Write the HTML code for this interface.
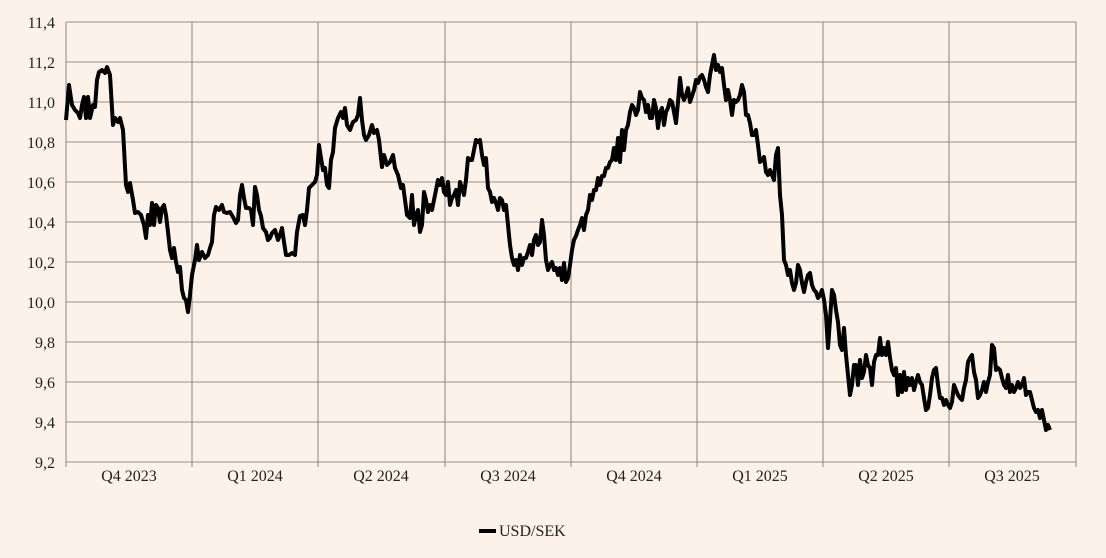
<!DOCTYPE html>
<html><head><meta charset="utf-8"><style>
html,body{margin:0;padding:0;background:#fdf2ea;}
svg{display:block;font-family:"Liberation Serif",serif;}
</style></head><body>
<svg width="1106" height="558" viewBox="0 0 1106 558">
<rect width="1106" height="558" fill="#fdf2ea"/>
<g stroke="#a8a29e" stroke-width="1.2">
<line x1="66" y1="22" x2="1076" y2="22"/><line x1="66" y1="62" x2="1076" y2="62"/><line x1="66" y1="102" x2="1076" y2="102"/><line x1="66" y1="142" x2="1076" y2="142"/><line x1="66" y1="182" x2="1076" y2="182"/><line x1="66" y1="222" x2="1076" y2="222"/><line x1="66" y1="262" x2="1076" y2="262"/><line x1="66" y1="302" x2="1076" y2="302"/><line x1="66" y1="342" x2="1076" y2="342"/><line x1="66" y1="382" x2="1076" y2="382"/><line x1="66" y1="422" x2="1076" y2="422"/><line x1="66" y1="462" x2="1076" y2="462"/>
</g>
<g stroke="#8a8480" stroke-width="1">
<line x1="66" y1="22" x2="66" y2="467"/><line x1="192" y1="22" x2="192" y2="467"/><line x1="318" y1="22" x2="318" y2="467"/><line x1="445" y1="22" x2="445" y2="467"/><line x1="571" y1="22" x2="571" y2="467"/><line x1="697" y1="22" x2="697" y2="467"/><line x1="823" y1="22" x2="823" y2="467"/><line x1="949" y1="22" x2="949" y2="467"/><line x1="1076" y1="22" x2="1076" y2="467"/>
</g>
<g font-size="16" fill="#222" text-anchor="end">
<text x="55" y="28">11,4</text><text x="55" y="68">11,2</text><text x="55" y="108">11,0</text><text x="55" y="148">10,8</text><text x="55" y="188">10,6</text><text x="55" y="228">10,4</text><text x="55" y="268">10,2</text><text x="55" y="308">10,0</text><text x="55" y="348">9,8</text><text x="55" y="388">9,6</text><text x="55" y="428">9,4</text><text x="55" y="468">9,2</text>
</g>
<g font-size="16" fill="#222" text-anchor="middle">
<text x="129" y="481">Q4 2023</text><text x="255" y="481">Q1 2024</text><text x="381" y="481">Q2 2024</text><text x="508" y="481">Q3 2024</text><text x="634" y="481">Q4 2024</text><text x="760" y="481">Q1 2025</text><text x="886" y="481">Q2 2025</text><text x="1012" y="481">Q3 2025</text>
</g>
<polyline fill="none" stroke="#000" stroke-width="4" stroke-linejoin="round" points="66,120 69,85 72,105 75,110 78,113 80,118 82,105 84,97 86,118 88,97 90,118 93,105 95,107 97,80 99,72 102,70 105,73 107,67 110,75 113,125 115,118 118,122 120,118 123,130 126,185 128,192 130,183 133,200 135,213 138,212 141,215 144,225 146,238 148,215 150,225 152,203 154,225 156,205 158,208 160,222 162,208 164,205 166,215 168,232 170,250 172,258 174,248 176,262 178,272 180,267 182,290 184,298 186,300 188,312 190,295 192,275 195,260 197,245 199,260 202,252 205,258 208,255 210,248 212,242 214,215 216,207 219,210 222,205 224,212 227,213 230,212 233,217 236,223 238,220 240,195 242,185 244,198 246,208 249,208 251,210 253,225 255,187 257,195 259,210 261,216 263,228 266,232 268,240 270,238 272,233 275,230 278,240 280,235 282,228 284,242 286,255 289,255 292,253 295,255 297,232 300,216 303,215 305,225 307,210 309,188 312,185 315,182 317,175 319,145 321,158 323,170 325,168 327,185 329,188 331,160 333,152 335,128 338,118 341,112 343,118 345,108 347,125 350,130 353,122 356,120 358,115 360,98 362,120 364,135 366,140 369,135 372,125 374,133 377,130 379,140 382,167 384,155 387,165 390,162 393,155 395,168 398,175 401,188 403,185 405,200 407,215 410,218 412,195 414,225 416,215 418,210 420,232 422,225 424,192 426,200 428,212 430,205 432,210 434,200 436,190 438,180 440,185 442,178 444,192 446,195 448,182 450,205 452,198 454,195 456,190 458,205 460,182 462,188 464,195 466,180 468,158 470,160 472,160 474,150 476,140 478,142 480,140 482,155 484,165 486,158 488,188 490,192 492,202 494,198 496,203 498,210 500,198 502,200 504,210 506,205 508,225 510,245 512,258 514,265 516,260 518,270 520,255 522,265 524,258 526,258 528,252 530,245 532,255 534,240 536,235 538,245 540,242 542,220 544,235 546,260 548,270 550,265 552,262 554,270 556,268 558,275 560,268 562,280 564,263 566,282 568,278 570,265 572,250 574,240 576,236 578,230 580,225 582,218 584,230 586,215 588,210 590,195 592,200 594,190 596,190 598,178 600,185 602,176 604,176 606,168 608,168 610,162 612,160 614,148 616,160 618,138 620,162 622,130 624,150 626,130 628,125 630,112 632,105 634,108 636,115 638,110 640,92 642,98 644,100 646,112 648,105 650,118 652,118 654,100 656,108 658,128 660,112 662,108 664,125 666,112 668,108 670,100 672,102 674,112 676,123 678,102 680,78 682,95 684,100 686,95 688,88 690,102 692,96 694,90 696,80 698,83 700,77 702,75 704,80 706,87 708,92 710,75 712,65 714,55 716,70 718,65 720,72 722,68 724,85 726,100 728,90 730,100 732,115 734,100 736,102 738,100 740,95 742,85 744,92 746,115 748,115 750,123 752,135 754,135 756,130 758,145 760,162 762,160 764,157 766,172 768,175 770,170 772,175 774,180 776,155 778,148 780,195 782,215 784,260 786,265 788,275 790,270 792,283 794,290 796,283 798,265 800,270 802,283 804,292 806,282 808,275 810,273 812,285 814,290 816,292 818,298 820,295 822,290 824,300 826,315 828,348 830,320 832,290 834,295 836,310 838,322 840,345 842,350 844,328 846,355 848,375 850,395 852,385 854,365 856,365 858,385 860,360 862,378 864,372 866,355 868,365 870,368 872,385 874,362 876,355 878,355 880,338 882,355 884,348 886,355 888,342 890,358 892,370 894,375 896,368 898,395 900,375 902,392 904,372 906,390 908,378 910,385 912,378 914,390 916,382 918,375 920,382 922,385 924,398 926,410 928,408 930,395 932,378 934,370 936,368 938,385 940,398 942,398 944,405 946,400 948,405 950,408 952,402 954,385 956,390 958,395 960,398 962,400 964,388 966,380 968,362 970,358 972,355 974,372 976,380 978,398 980,395 982,390 984,382 986,392 988,382 990,375 992,345 994,348 996,370 998,368 1000,370 1002,378 1004,385 1006,388 1008,375 1010,392 1012,385 1014,392 1016,388 1018,382 1020,388 1022,385 1024,378 1026,395 1028,392 1030,392 1032,400 1034,408 1036,412 1038,410 1040,418 1042,410 1044,420 1046,430 1048,425 1050,430"/>
<line x1="479" y1="531" x2="496" y2="531" stroke="#000" stroke-width="4"/>
<text x="499" y="536" font-size="16" fill="#222">USD/SEK</text>
</svg>
</body></html>
